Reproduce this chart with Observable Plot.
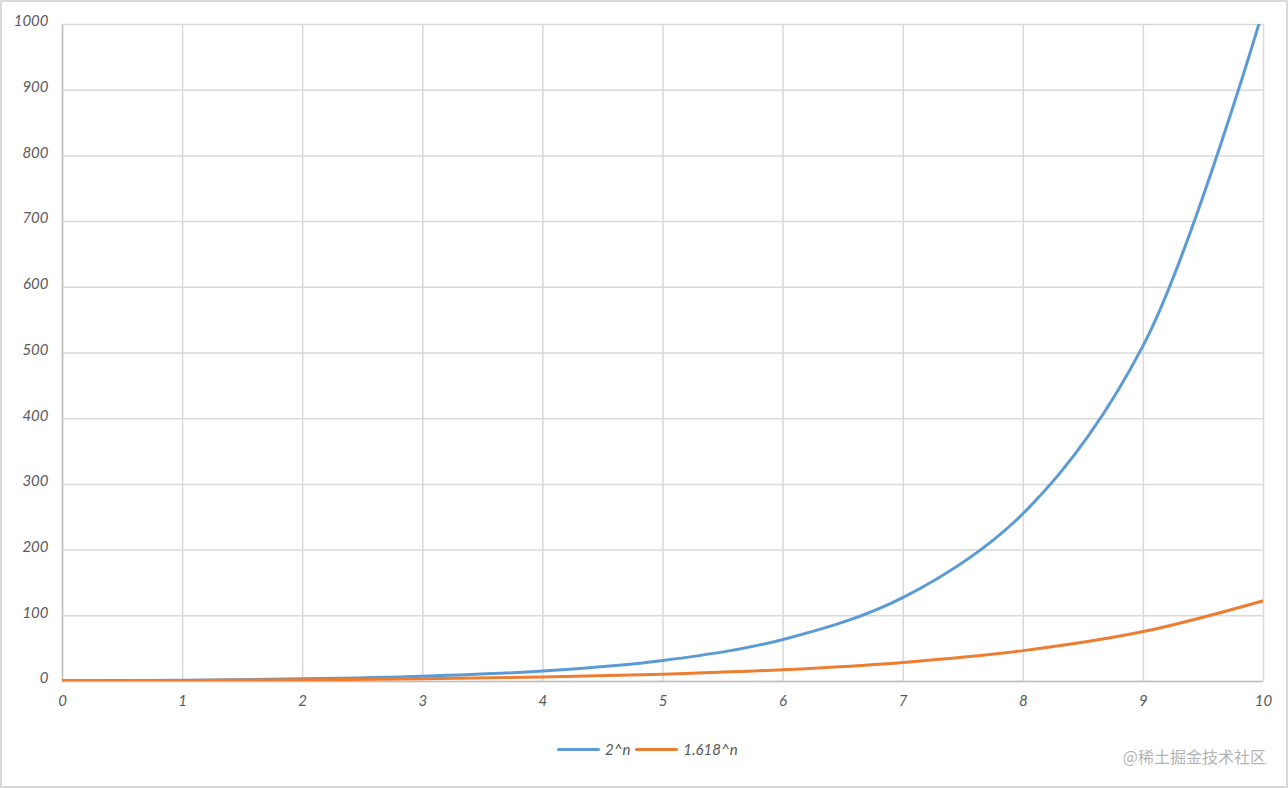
<!DOCTYPE html>
<html>
<head>
<meta charset="utf-8">
<script src="https://cdn.jsdelivr.net/npm/d3@7"></script>
<script src="https://cdn.jsdelivr.net/npm/@observablehq/plot@0.6"></script>
<style>
  html, body { margin: 0; padding: 0; background: #fff; }
  #wrap { position: relative; width: 1288px; height: 788px; overflow: hidden; background: #fff; }
  #wrap svg { position: absolute; left: 0; top: 0; }
  #frame { position: absolute; left: 0; top: 0; width: 1288px; height: 788px; box-sizing: border-box; border: 2px solid #d9d9d9; pointer-events: none; }
  #legend { position: absolute; left: 557px; top: 740px; display: flex; align-items: center; font-family: Lato, "Open Sans", sans-serif; font-style: italic; font-size: 15px; color: #595959; }
  #legend .sw { display: inline-block; width: 43px; height: 3px; border-radius: 2px; margin-right: 5px; }
  #legend .lab { margin-right: 5px; }
  #mark { position: absolute; right: 22px; top: 744px; font-family: "Noto Sans CJK SC", sans-serif; font-size: 16px; color: #b4b4b4; }
</style>
</head>
<body>
<div id="wrap"></div>
<script>
const nValues = [0, 1, 2, 3, 4, 5, 6, 7, 8, 9, 10];
const pow2 = [1, 2, 4, 8, 16, 32, 64, 128, 256, 512, 1024];
const powPhi = [1, 1.618, 2.618, 4.236, 6.854, 11.09, 17.94, 29.03, 46.98, 76.01, 122.99];
const seriesNames = ["2^n", "1.618^n"];
const seriesColors = ["#5b9bd5", "#ed7d31"];
const xTicks = [0, 1, 2, 3, 4, 5, 6, 7, 8, 9, 10];
const yTicks = [0, 100, 200, 300, 400, 500, 600, 700, 800, 900, 1000];

const rows = [];
nValues.forEach((n, i) => rows.push({n, v: pow2[i], s: seriesNames[0]}));
nValues.forEach((n, i) => rows.push({n, v: powPhi[i], s: seriesNames[1]}));

const chart = Plot.plot({
  width: 1288,
  height: 720,
  marginLeft: 62,
  marginRight: 25,
  marginTop: 24,
  marginBottom: 39,
  style: {fontFamily: "Lato, 'Open Sans', sans-serif", fontSize: "15px", fontStyle: "italic", color: "#595959", background: "transparent"},
  x: {domain: [0, 10]},
  y: {domain: [0, 1000]},
  color: {domain: seriesNames, range: seriesColors},
  marks: [
    Plot.gridX(xTicks, {stroke: "#d9d9d9", strokeOpacity: 1, strokeWidth: 1.5}),
    Plot.gridY(yTicks, {stroke: "#d9d9d9", strokeOpacity: 1, strokeWidth: 1.5}),
    Plot.ruleX([0], {stroke: "#bfbfbf", strokeWidth: 1.5}),
    Plot.ruleY([0], {stroke: "#bfbfbf", strokeWidth: 1.5}),
    Plot.axisX(xTicks, {tickSize: 0, tickPadding: 14, label: null, fill: "#595959", tickFormat: d3.format("d")}),
    Plot.axisY(yTicks, {tickSize: 0, tickPadding: 14, label: null, dy: -3, fill: "#595959", tickFormat: d3.format("d")}),
    Plot.line(rows, {x: "n", y: "v", z: "s", stroke: "s", strokeWidth: 3, curve: "catmull-rom", clip: true})
  ]
});
const wrap = document.getElementById("wrap");
wrap.appendChild(chart);

const legend = document.createElement("div");
legend.id = "legend";
seriesNames.forEach((name, i) => {
  const sw = document.createElement("span");
  sw.className = "sw";
  sw.style.background = seriesColors[i];
  const lab = document.createElement("span");
  lab.className = "lab";
  lab.textContent = name;
  legend.appendChild(sw);
  legend.appendChild(lab);
});
wrap.appendChild(legend);

const mark = document.createElement("div");
mark.id = "mark";
mark.textContent = "@稀土掘金技术社区";
wrap.appendChild(mark);

const frame = document.createElement("div");
frame.id = "frame";
wrap.appendChild(frame);
</script>
</body>
</html>
